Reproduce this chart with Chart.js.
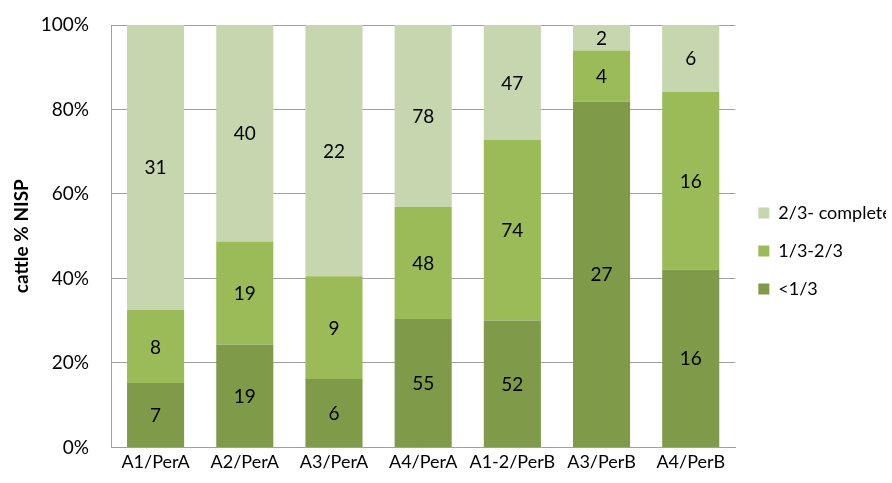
<!DOCTYPE html>
<html>
<head>
<meta charset="utf-8">
<script src="https://cdn.jsdelivr.net/npm/chart.js@4/dist/chart.umd.min.js"></script>
<style>
  html, body { margin: 0; padding: 0; background: #fff; }
  #wrap { width: 892px; height: 483px; }
</style>
</head>
<body>
<div id="wrap"><canvas id="c" width="892" height="483"></canvas></div>
<script>
// Cattle bone fragment counts (NISP) per area / period, by completeness class
const categories = ['A1/PerA', 'A2/PerA', 'A3/PerA', 'A4/PerA', 'A1-2/PerB', 'A3/PerB', 'A4/PerB'];
const lessThird   = [7, 19, 6, 55, 52, 27, 16];   // <1/3
const thirdToTwo  = [8, 19, 9, 48, 74, 4, 16];    // 1/3-2/3
const twoComplete = [31, 40, 22, 78, 47, 2, 6];   // 2/3- complete
const yTicks = [0, 20, 40, 60, 80, 100];

const totals = categories.map((_, i) => lessThird[i] + thirdToTwo[i] + twoComplete[i]);
const pct = arr => arr.map((v, i) => v / totals[i] * 100);

const FONT = 'Lato, "Open Sans", sans-serif';

const series = [
  { label: '<1/3',           counts: lessThird,   color: '#7f9b4a' },
  { label: '1/3-2/3',        counts: thirdToTwo,  color: '#9bbb59' },
  { label: '2/3- complete',  counts: twoComplete, color: '#c6d6ae' }
];

// Writes the raw count in the middle of each stacked segment
const countLabels = {
  id: 'countLabels',
  afterDatasetsDraw(chart) {
    const ctx = chart.ctx;
    ctx.save();
    ctx.font = '19px ' + FONT;
    ctx.fillStyle = '#000';
    ctx.textAlign = 'center';
    ctx.textBaseline = 'middle';
    chart.data.datasets.forEach((ds, di) => {
      const meta = chart.getDatasetMeta(di);
      meta.data.forEach((bar, i) => {
        const mid = (bar.y + bar.base) / 2;
        ctx.fillText(String(ds.counts[i]), bar.x, mid + 1);
      });
    });
    ctx.restore();
  }
};

// Places the legend block a fixed distance right of the plot area
const legendPlace = {
  id: 'legendPlace',
  afterLayout(chart) {
    const lg = chart.legend;
    if (lg) {
      lg.left = chart.chartArea.right + 3;
      lg.right = lg.left + lg.width;
    }
  }
};

new Chart(document.getElementById('c'), {
  type: 'bar',
  data: {
    labels: categories,
    datasets: series.map(s => ({
      label: s.label,
      data: pct(s.counts),
      counts: s.counts,
      backgroundColor: s.color,
      borderWidth: 0,
      barPercentage: 0.64,
      categoryPercentage: 1.0
    }))
  },
  options: {
    responsive: false,
    animation: false,
    layout: { padding: { left: 6, right: 0, top: 25, bottom: 6 } },
    plugins: {
      legend: {
        position: 'right',
        reverse: true,
        align: 'center',
        labels: {
          font: { family: FONT, size: 18 },
          color: '#000',
          boxWidth: 11,
          boxHeight: 11,
          padding: 20
        }
      },
      tooltip: { enabled: false }
    },
    scales: {
      x: {
        stacked: true,
        grid: { display: false, drawTicks: false },
        border: { color: '#a0a0a0', width: 1 },
        ticks: { font: { family: FONT, size: 18 }, color: '#000', padding: 4, maxRotation: 0, autoSkip: false }
      },
      y: {
        stacked: true,
        min: 0,
        max: 100,
        afterBuildTicks(axis) { axis.ticks = yTicks.map(v => ({ value: v })); },
        afterFit(axis) {
          axis.width = 105;
          axis.paddingTop = 0;
          axis.paddingBottom = 0;
        },
        grid: { color: '#a0a0a0', lineWidth: 1, drawTicks: false },
        border: { color: '#a0a0a0', width: 1 },
        ticks: {
          font: { family: FONT, size: 19 },
          color: '#000',
          padding: 22,
          callback: v => v + '%'
        },
        title: {
          display: true,
          text: 'cattle % NISP',
          font: { family: FONT, size: 19, weight: 'bold' },
          color: '#000',
          padding: { top: 4, bottom: 12 }
        }
      },
      // empty spacer between the plot and the legend
      gap: {
        position: 'right',
        display: true,
        min: 0,
        max: 1,
        grid: { display: false, drawTicks: false },
        border: { display: false },
        ticks: { display: false },
        afterFit(axis) { axis.width = 9; }
      }
    }
  },
  plugins: [countLabels, legendPlace]
});
</script>
</body>
</html>
